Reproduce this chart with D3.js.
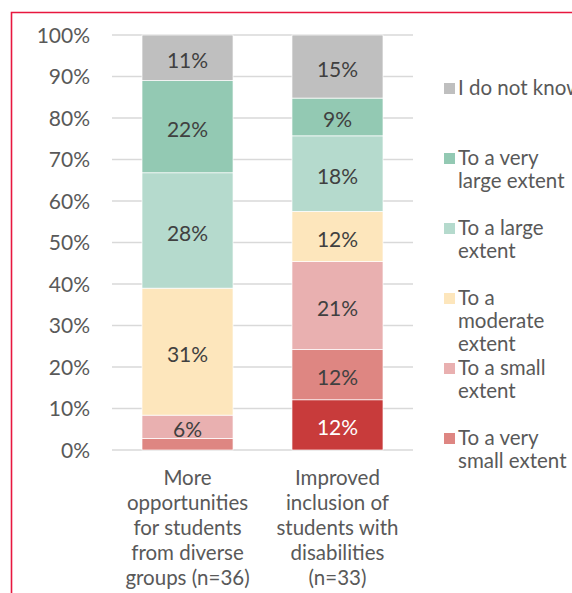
<!DOCTYPE html>
<html><head><meta charset="utf-8">
<script src="https://cdn.jsdelivr.net/npm/d3@7"></script>
<style>
html,body{margin:0;padding:0;background:#fff;}
svg{display:block;font-family:Lato, "Noto Sans", sans-serif;}
</style></head>
<body>
<svg id="chart" width="572" height="593"></svg>
<script>
const categories = [
  ["More", "opportunities", "for students", "from diverse", "groups (n=36)"],
  ["Improved", "inclusion of", "students with", "disabilities", "(n=33)"]
];
const seriesNames = ["Not at all", "To a very small extent", "To a small extent", "To a moderate extent", "To a large extent", "To a very large extent", "I do not know"];
const seriesColors = ["#c83b3b", "#de8682", "#e9b0b0", "#fde6bc", "#b5dacd", "#93c9b3", "#bfbfbf"];
// values in percent (bar 1 then bar 2) for each series, bottom to top
const notAtAll      = [0,   12.1];
const verySmall     = [2.8, 12.1];
const small         = [5.6, 21.2];
const moderate      = [30.6, 12.1];
const large         = [27.8, 18.2];
const veryLarge     = [22.2, 9.1];
const dontKnow      = [11.1, 15.2];
const valueLabels = [
  ["", "12%"], ["", "12%"], ["6%", "21%"], ["31%", "12%"], ["28%", "18%"], ["22%", "9%"], ["11%", "15%"]
];
const tickValues = [0,10,20,30,40,50,60,70,80,90,100];
const legendNames = ["I do not know", "To a very|large extent", "To a large|extent", "To a|moderate|extent", "To a small|extent", "To a very|small extent"];
const legendColors = ["#bfbfbf", "#93c9b3", "#b5dacd", "#fde6bc", "#e9b0b0", "#de8682"];

const seriesValues = [notAtAll, verySmall, small, moderate, large, veryLarge, dontKnow];
const svg = d3.select("#chart");

// frame
svg.append("path").attr("d", "M11.5,600 V12.5 H580").attr("fill","none").attr("stroke","#e8173f").attr("stroke-width",1.6);

const y = d3.scaleLinear().domain([0,100]).range([450,35]);
const x = d3.scaleBand().domain([0,1]).range([112,413]).paddingInner(0.393).paddingOuter(0.2);

// grid
svg.append("g").selectAll("line").data(tickValues).join("line")
  .attr("x1",112).attr("x2",413).attr("y1",d=>y(d)).attr("y2",d=>y(d))
  .attr("stroke","#d9d9d9").attr("stroke-width",1.5);

// y axis labels
svg.append("g").selectAll("text").data(tickValues).join("text")
  .attr("x",90).attr("y",d=>y(d)).attr("dy","0.36em").attr("text-anchor","end")
  .attr("font-size",21).attr("fill","#595959").text(d=>d+"%");

// stacked bars
const stacked = [];
[0,1].forEach(ci=>{
  let acc = 0;
  seriesValues.forEach((s,si)=>{
    stacked.push({ci, si, y0:acc, y1:acc+s[ci], label:valueLabels[si][ci]});
    acc += s[ci];
  });
});
const g = svg.append("g");
g.selectAll("rect").data(stacked.filter(d=>d.y1>d.y0)).join("rect")
  .attr("x",d=>x(d.ci)).attr("width",x.bandwidth())
  .attr("y",d=>y(Math.min(100,d.y1))).attr("height",d=>y(d.y0)-y(Math.min(100,d.y1)))
  .attr("fill",d=>seriesColors[d.si]).attr("stroke","#fff").attr("stroke-width",0.7);
g.selectAll("text").data(stacked.filter(d=>d.label)).join("text")
  .attr("x",d=>x(d.ci)+x.bandwidth()/2).attr("y",d=>(y(d.y0)+y(Math.min(100,d.y1)))/2)
  .attr("dy","0.48em").attr("text-anchor","middle").attr("font-size",21)
  .attr("fill",d=>d.si===0?"#ffffff":"#404040").text(d=>d.label);

// category labels
const cat = svg.append("g").selectAll("text").data(categories).join("text")
  .attr("text-anchor","middle").attr("font-size",20.5).attr("fill","#595959");
cat.selectAll("tspan").data((d,i)=>d.map(t=>({t,i}))).join("tspan")
  .attr("x",d=>x(d.i)+x.bandwidth()/2).attr("y",(d,j)=>485+j*25).text(d=>d.t);

// legend
const leg = svg.append("g").selectAll("g").data(legendNames).join("g")
  .attr("transform",(d,i)=>`translate(444,${95+i*70})`);
leg.append("rect").attr("x",0).attr("y",-12).attr("width",11).attr("height",11).attr("fill",(d,i)=>legendColors[i]);
const lt = leg.append("text").attr("font-size",20.5).attr("fill","#595959");
lt.selectAll("tspan").data(d=>d.split("|")).join("tspan").attr("x",14).attr("y",(d,j)=>j*23).text(d=>d);
</script>
</body></html>
